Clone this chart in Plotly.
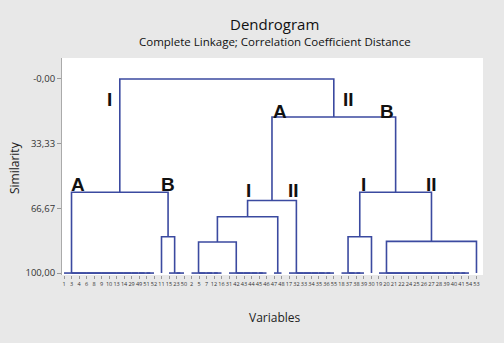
import plotly.graph_objects as go

# ---------------- data ----------------
# leaf groups, left to right (variables inside a group join at similarity 100)
g_A = ["1", "3", "4", "6", "8", "9", "10", "13", "14", "29", "49", "51", "52"]
g_B1 = ["11"]
g_B2 = ["15", "23", "50"]
g_IIA_I_1 = ["2", "5", "7", "12", "16"]
g_IIA_I_2 = ["31", "42", "43", "44", "45", "46"]
g_IIA_I_3 = ["47", "48"]
g_IIA_II = ["17", "32", "33", "34", "35", "36", "55"]
g_IIB_I_1 = ["18", "37", "38", "39"]
g_IIB_I_2 = ["30"]
g_IIB_II_1 = ["19", "20", "21", "22", "24", "25", "26", "27", "28", "39", "40", "41", "54"]
g_IIB_II_2 = ["53"]

# similarity levels of the merges
sim_leaf = 100.0
sim_root = 0.0
sim_I = 58.4
sim_I_B = 81.3
sim_II = 19.6
sim_IIA = 62.6
sim_IIA_I = 71.0
sim_IIA_I_sub = 84.0
sim_IIB = 58.4
sim_IIB_I = 81.3
sim_IIB_II = 83.7

# y axis ticks
y_tickvals = [0.0, 33.33, 66.67, 100.0]
y_ticktext = ["-0,00", "33,33", "66,67", "100,00"]


def grp(leaves, name=None):
    return {"kind": "group", "leaves": leaves, "name": name}


def node(sim, left, right, name=None):
    return {"kind": "node", "sim": sim, "l": left, "r": right, "name": name}


tree = node(sim_root,
            node(sim_I, grp(g_A, "A1"),
                 node(sim_I_B, grp(g_B1), grp(g_B2), "B1"), "I_top"),
            node(sim_II,
                 node(sim_IIA,
                      node(sim_IIA_I,
                           node(sim_IIA_I_sub, grp(g_IIA_I_1), grp(g_IIA_I_2)),
                           grp(g_IIA_I_3), "IA_I"),
                      grp(g_IIA_II, "IA_II"), "A2"),
                 node(sim_IIB,
                      node(sim_IIB_I, grp(g_IIB_I_1), grp(g_IIB_I_2), "IB_I"),
                      node(sim_IIB_II, grp(g_IIB_II_1), grp(g_IIB_II_2), "IB_II"),
                      "B2"),
                 "II_top"))

# cluster labels: (node name, text, xshift px, yshift px)
cluster_labels = [
    ("I_top", "I", -10, -21), ("II_top", "II", 15, -21),
    ("A2", "A", 8, 6), ("B2", "B", -9, 6),
    ("A1", "A", 6, 8), ("B1", "B", 0, 8),
    ("IA_I", "I", 1, 10), ("IA_II", "II", -3, 10),
    ("IB_I", "I", 4, 8), ("IB_II", "II", 0, 8),
]

# ---------------- build dendrogram ----------------
leaf_labels = []
xs, ys = [], []
pos = {}


def build(n, parent_sim=None):
    if n["kind"] == "group":
        start = len(leaf_labels)
        leaf_labels.extend(n["leaves"])
        idx = list(range(start, len(leaf_labels)))
        x = float(idx[-1])
        for k in reversed(idx[:-1]):
            xs.extend([k, k, x, x, None])
            ys.extend([sim_leaf, sim_leaf, sim_leaf, sim_leaf, None])
            x = (k + x) / 2.0
        h = sim_leaf
    else:
        x1, h1 = build(n["l"], n["sim"])
        x2, h2 = build(n["r"], n["sim"])
        xs.extend([x1, x1, x2, x2, None])
        ys.extend([h1, n["sim"], n["sim"], h2, None])
        x = (x1 + x2) / 2.0
        h = n["sim"]
    if n.get("name"):
        pos[n["name"]] = (x, parent_sim)
    return x, h


build(tree)
n_leaves = len(leaf_labels)

LINE = "#3b4aa0"
fig = go.Figure()
fig.add_trace(go.Scatter(x=xs, y=ys, mode="lines",
                         line=dict(color=LINE, width=1.6),
                         hoverinfo="skip", showlegend=False))

for name, text, dx, dy in cluster_labels:
    x, ps = pos[name]
    fig.add_annotation(x=x, y=ps, text=f"<b>{text}</b>", showarrow=False,
                       xshift=dx, yshift=dy, xanchor="center", yanchor="middle",
                       font=dict(family="Liberation Sans, Arial", size=19, color="#111111"))

fig.add_annotation(x=0.505, y=1.157, xref="paper", yref="paper", text="Dendrogram",
                   showarrow=False, font=dict(family="Open Sans", size=15, color="#111"),
                   xanchor="center", yanchor="middle")
fig.add_annotation(x=0.505, y=1.074, xref="paper", yref="paper",
                   text="Complete Linkage; Correlation Coefficient Distance",
                   showarrow=False, font=dict(family="Open Sans", size=11.5, color="#111"),
                   xanchor="center", yanchor="middle")
fig.add_annotation(x=0.506, y=-0.198, xref="paper", yref="paper", text="Variables",
                   showarrow=False, font=dict(family="Open Sans", size=12, color="#222"),
                   xanchor="center", yanchor="middle")
fig.add_annotation(x=-0.114, y=0.493, xref="paper", yref="paper", text="Similarity",
                   textangle=-90, showarrow=False,
                   font=dict(family="Open Sans", size=12, color="#222"),
                   xanchor="center", yanchor="middle")

fig.update_layout(
    width=504, height=343,
    margin=dict(l=62, r=21, t=58, b=68),
    paper_bgcolor="#e8e8e8", plot_bgcolor="#ffffff",
    showlegend=False,
)
fig.update_xaxes(range=[-0.27, n_leaves - 1 + 0.87],
                 tickmode="array", tickvals=list(range(n_leaves)), ticktext=leaf_labels,
                 tickangle=0, tickfont=dict(family="Open Sans", size=5.5, color="#333"),
                 ticks="outside", ticklen=3, tickcolor="#999", showgrid=False,
                 zeroline=False, showline=False)
fig.update_yaxes(range=[101.0, -10.8],
                 tickmode="array", tickvals=y_tickvals, ticktext=y_ticktext,
                 tickfont=dict(family="Open Sans", size=9.5, color="#333"),
                 ticks="outside", ticklen=4, tickcolor="#999", showgrid=False,
                 zeroline=False, showline=True, linecolor="#aaaaaa", linewidth=1)

fig.write_html("out.html")
